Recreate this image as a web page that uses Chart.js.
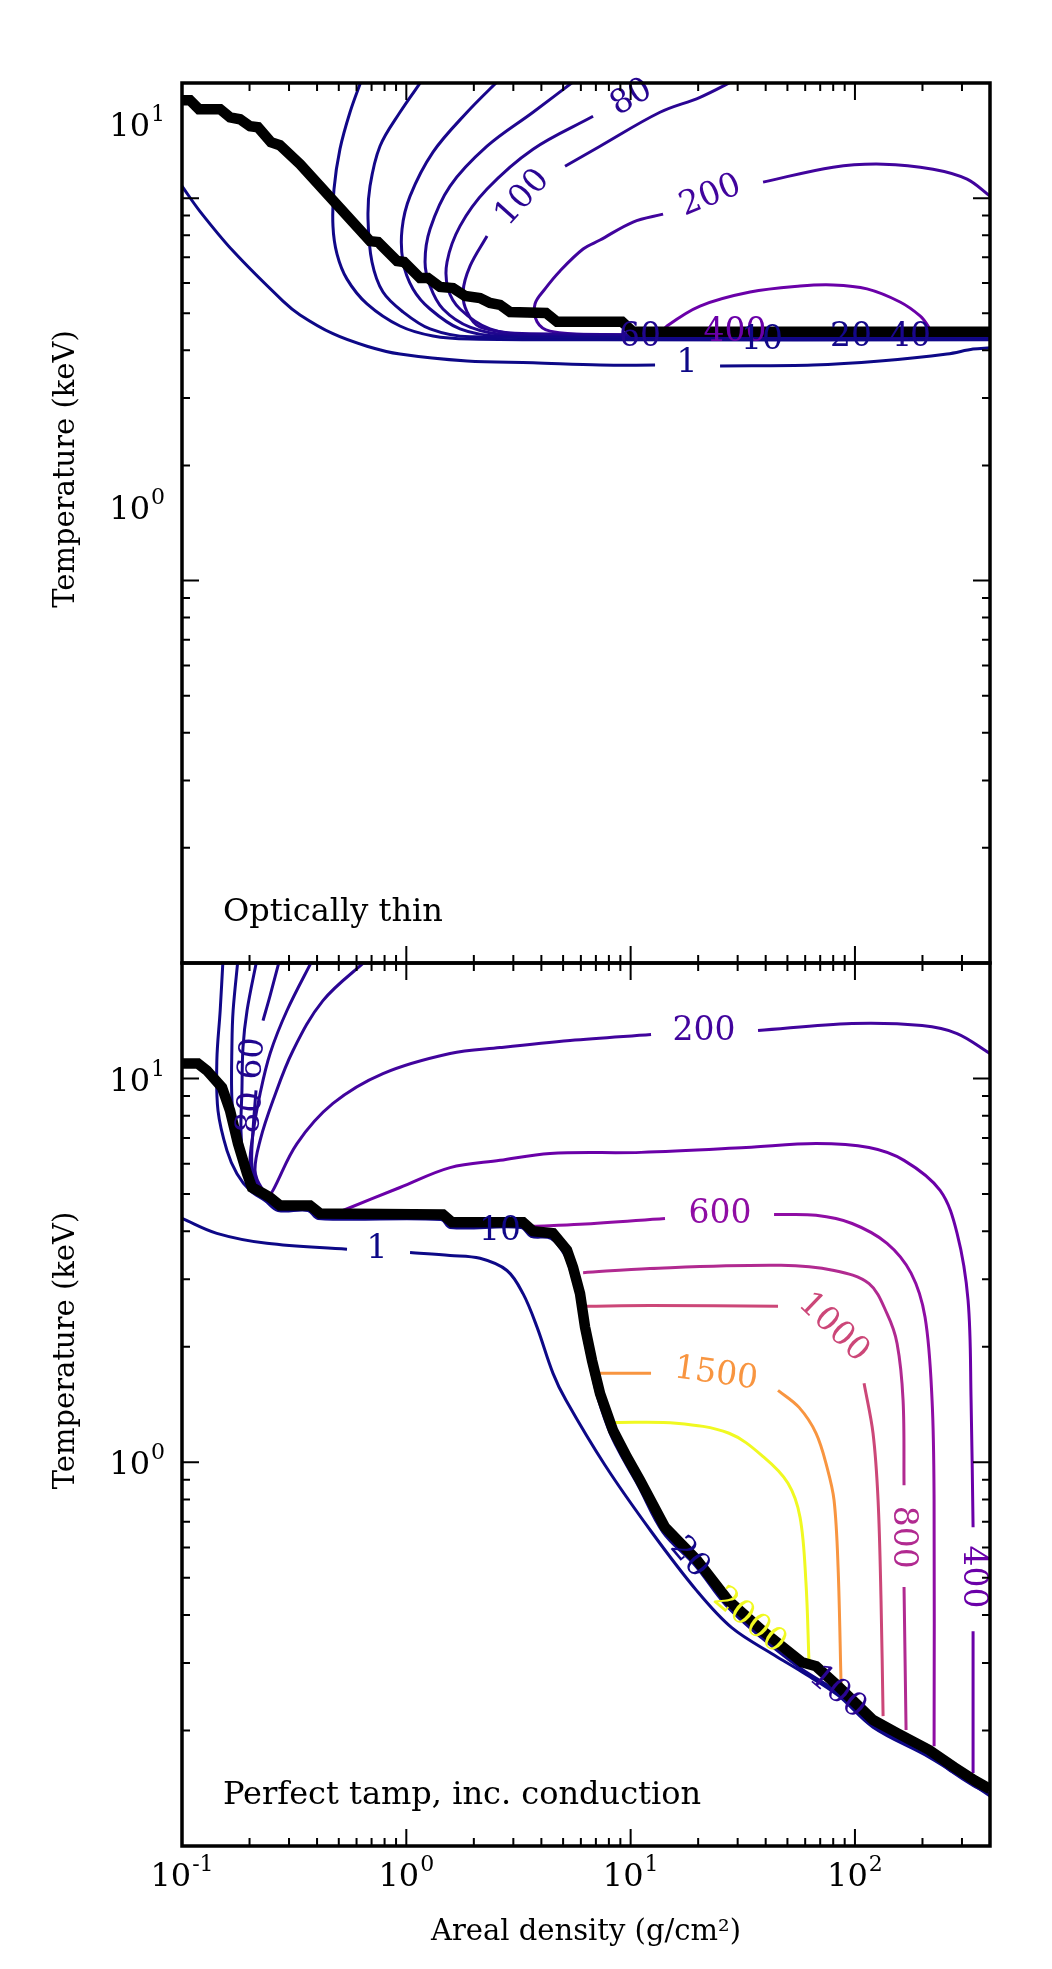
<!DOCTYPE html>
<html>
<head>
<meta charset="utf-8">
<title>Areal density vs temperature</title>
<script src="https://cdn.jsdelivr.net/npm/chart.js@4.4.1/dist/chart.umd.min.js"></script>
<style>
  body { margin: 0; background: #fff; }
  #wrap { position: relative; width: 1052px; height: 1969px; }
  #wrap canvas { position: absolute; left: 0; top: 0; }
</style>
</head>
<body>
<div id="wrap">
  <canvas id="thinChart" width="1052" height="1969"></canvas>
  <canvas id="tampChart" width="1052" height="1969"></canvas>
</div>
<script>
// Axes (log-log, shared x)
const xRange = [0.1, 400];
const yRange = [0.1, 20];
const xMajor = [0.1, 1, 10, 100];
const xExponents = ['-1', '0', '1', '2'];
const yMajor = [1, 10];
const yExponents = ['0', '1'];

// Contour levels and their plasma colours
const levels = [1, 10, 20, 40, 60, 80, 100, 200, 400, 600, 800, 1000, 1500, 2000];
const levelColours = ['#0d0887', '#100788', '#130789', '#19068c', '#20068f', '#260591', '#2a0593',
  '#41049d', '#6a00a8', '#8f0da4', '#b12a90', '#cc4778', '#f89540', '#f0f921'];

// ---- Top panel: optically thin ----  [areal density g/cm2, temperature keV]
const thinBoundary = [[0.1,18.03],[0.1086,18.03],[0.119,17.08],[0.148,17.08],[0.1637,16.27],[0.1814,16.08],
  [0.201,15.42],[0.2182,15.32],[0.2492,14.0],[0.273,13.75],[0.336,12.27],[0.689,7.72],[0.748,7.68],
  [0.909,6.85],[0.977,6.81],[1.151,6.18],[1.249,6.18],[1.414,5.86],[1.615,5.82],[1.827,5.55],[2.131,5.48],
  [2.361,5.32],[2.617,5.26],[2.9,5.04],[4.196,5.01],[4.697,4.75],[9.16,4.75],[10.25,4.47],[400,4.47]];
const thinC1 = [[0.1,10.75],[0.12,9.25],[0.169,7.27],[0.282,5.38],[0.336,4.95],[0.471,4.42],[0.668,4.1],
  [0.937,3.91],[1.865,3.75],[3.672,3.71],[7.305,3.66],[12.85,3.66],null,[25.04,3.64],[65.05,3.66],
  [129.4,3.75],[257.4,3.91],[336.2,4.03],[400,4.06]];
const thinC10 = [[0.634,20.5],[0.561,16.77],[0.506,13.43],[0.476,10.56],[0.471,8.45],[0.491,7.14],[0.544,6.14],
  [0.668,5.29],[0.937,4.63],[1.315,4.36],[1.923,4.28],[7.305,4.26],[400,4.26]];
const thinC20 = [[1.187,20.5],[0.937,16.77],[0.763,13.67],[0.689,10.75],[0.675,8.81],[0.703,6.81],[0.787,5.68],
  [0.967,5.04],[1.276,4.55],[1.923,4.34],[400,4.31]];
const thinC40 = [[2.617,20.5],[1.865,16.77],[1.315,13.19],[1.039,10.12],[0.957,8.3],[0.967,6.81],[1.071,5.79],
  [1.276,5.13],[1.735,4.55],[2.617,4.36],[400,4.34]];
const thinC60 = [[5.77,20.5],[3.672,16.77],[2.29,13.67],[1.567,10.75],[1.276,8.3],[1.212,6.81],[1.276,5.89],
  [1.457,5.13],[1.923,4.6],[2.9,4.39],[400,4.36]];
const thinC80 = [[6.8,16.37],[3.672,13.43],[2.29,10.56],[1.735,8.45],[1.519,6.81],[1.535,5.79],[1.735,5.13],
  [2.361,4.55],[3.561,4.39],[400,4.36]];
const thinC100 = [[29.82,20.5],[20.39,18.35],[13.52,16.77],[7.305,13.67],[5.1,12.12],null,[2.29,7.96],
  [1.923,6.64],[1.789,5.68],[1.865,5.04],[2.131,4.6],[3.561,4.42],[400,4.39]];
const thinC200 = [[400,10.12],[316.1,11.21],[222.9,11.9],[133.5,12.27],[79.9,12.05],[38.94,11.01],null,
  [13.95,9.08],[10.25,8.66],[7.305,7.77],[6.14,7.36],[4.845,6.45],[4.154,5.79],[3.748,5.29],[3.826,4.75],
  [4.373,4.49],[7.305,4.39],[400,4.36]];
const thinC400 = [[13.52,4.39],[14.53,4.63],[20.39,5.22],[34.07,5.68],[56.92,5.89],[79.9,5.93],[113.2,5.79],
  [158.9,5.35],[195.1,4.92],[211.8,4.63],[220.7,4.39]];
const thinLabels = [
  { text: '80', x: 10.04, y: 18.4, angle: -30, level: 80 },
  { text: '100', x: 3.28, y: 10.06, angle: -48, level: 100 },
  { text: '200', x: 22.6, y: 10.18, angle: -22, level: 200 },
  { text: '400', x: 29.22, y: 4.49, angle: 0, level: 400 },
  { text: '60', x: 11.01, y: 4.34, angle: 0, level: 60 },
  { text: '10', x: 38.54, y: 4.28, angle: 0, level: 10 },
  { text: '20', x: 96.07, y: 4.34, angle: 0, level: 20 },
  { text: '40', x: 176.1, y: 4.34, angle: 0, level: 40 },
  { text: '1', x: 17.85, y: 3.71, angle: 0, level: 1 }
];

// ---- Bottom panel: perfect tamp, inc. conduction ----
const tampBoundary = [[0.1,10.94],[0.1178,10.94],[0.1292,10.49],[0.1508,9.48],[0.1637,8.25],[0.1777,6.77],
  [0.195,5.65],[0.2051,5.2],[0.2297,5.02],[0.2467,4.9],[0.273,4.67],[0.372,4.67],[0.412,4.45],[1.457,4.42],
  [1.598,4.22],[3.314,4.22],[3.672,4.0],[4.508,3.95],[5.204,3.57],[5.536,3.22],[5.949,2.75],[6.262,2.25],
  [6.73,1.84],[7.305,1.51],[8.35,1.21],[9.64,1.03],[11.01,0.898],[14.23,0.677],[19.78,0.556],[27.19,0.437],
  [39.34,0.361],[58.1,0.301],[67.1,0.294],[84.1,0.261],[120.4,0.213],[154.1,0.197],[214,0.178],
  [276.6,0.1606],[343,0.148],[400,0.1407]];
const tampC1 = [[0.1,4.32],[0.143,3.95],[0.239,3.72],[0.544,3.59],null,[1.039,3.52],[1.567,3.46],[2.131,3.4],
  [2.81,3.16],[3.314,2.75],[3.826,2.25],[4.508,1.705],[5.152,1.45],[7.69,0.982],[12.33,0.661],[19.78,0.4615],
  [28.31,0.37],[43.59,0.3145],[58.1,0.284],[84.1,0.247],[120.4,0.204],[214,0.1705],[343,0.1433],[400,0.135]];
const tampC10 = [[0.1524,20.5],[0.148,15.04],[0.143,11.14],[0.1447,8.25],[0.1587,6.49],[0.1758,5.65],
  [0.201,5.11],[0.2344,4.81],[0.268,4.53],[0.3645,4.53],[0.404,4.32],[1.428,4.29],[1.567,4.09],[3.247,4.09],
  [3.597,3.88],[4.417,3.83],[5.1,3.46],[5.425,3.12],[5.83,2.67],[6.14,2.18],[6.593,1.789],[7.155,1.468],
  [8.176,1.176],[9.44,1.0],[10.79,0.871],[13.95,0.657],[19.37,0.539],[26.62,0.424],[38.54,0.348],
  [56.92,0.291],[82.35,0.253],[118.0,0.207],[150.9,0.191],[209.6,0.175],[271,0.156],[336.2,0.1438],
  [400,0.1366]];
const tampC20 = [[0.1777,20.5],[0.169,15.04],[0.167,12.33],[0.167,8.76],[0.1758,6.61],[0.195,5.43],
  [0.2274,4.96],[0.26,4.7]];
const tampC40 = [[0.216,20.5],[0.195,15.04],[0.187,12.04],[0.185,9.31],[0.1832,7.32],[0.189,6.01],
  [0.2073,5.27],[0.2417,4.87],[0.273,4.64]];
const tampC60 = [[0.273,20.5],[0.247,16.45],[0.2297,14.16],null,[0.2138,9.31],[0.2073,7.32],[0.2051,5.93],
  [0.2182,5.27],[0.2518,4.84],[0.279,4.61]];
const tampC80 = [[0.3837,20.5],[0.2938,15.04],[0.247,11.62],[0.223,9.14],[0.2073,7.19],[0.201,5.86],
  [0.2138,5.27],[0.247,4.87],[0.285,4.61]];
const tampC100 = [[0.675,20.5],[0.425,15.96],[0.3126,11.83],[0.2544,8.76],[0.223,6.9],[0.2116,5.76],
  [0.2274,5.17],[0.26,4.81],[0.2909,4.59]];
const tampC200 = [[0.2417,4.9],[0.2544,5.11],[0.3256,6.77],[0.471,8.61],[0.787,10.3],[1.567,11.62],
  [2.617,12.04],[5.37,12.56],[12.33,13.02],null,[36.98,13.34],[97.1,13.91],[199.2,13.74],[285.3,13.1],
  [400,11.62]];
const tampC400 = [[0.522,4.53],[0.937,5.2],[1.567,5.86],[2.617,6.12],[4.373,6.38],[11.13,6.42],[32.7,6.61],
  [67.1,6.77],[115.6,6.61],[165.5,6.12],[239.6,5.11],[285.3,3.95],[319.4,2.64],[329.4,1.45],[336.2,0.677],
  null,[336.2,0.363],[336.2,0.155]];
const tampC600 = [[3.672,4.12],[5.949,4.17],[14.23,4.32],null,[43.59,4.42],[67.1,4.4],[97.1,4.19],
  [139.0,3.72],[177.9,3.11],[205.3,2.39],[220.7,1.45],[225.3,0.796],[225.3,0.182]];
const tampC800 = [[6.14,3.12],[12.2,3.2],[46.83,3.26],[80.7,3.16],[115.6,2.92],[139.0,2.44],[154.1,2.04],
  [163.9,1.45],[165.5,0.871],null,[165.5,0.473],[169.0,0.2005]];
const tampC1000 = [[6.39,2.55],[12.2,2.56],[45.4,2.55],null,[109.8,1.606],[120.4,1.19],[126.8,0.796],
  [130.7,0.437],[133.5,0.218]];
const tampC1500 = [[7.155,1.705],[12.33,1.705],null,[45.4,1.54],[56.34,1.39],[67.1,1.19],[75.1,0.97],
  [80.7,0.796],[84.1,0.533],[86.7,0.266]];
const tampC2000 = [[8.35,1.27],[15.94,1.264],[27.47,1.19],[39.34,1.03],[50.3,0.882],[56.92,0.719],
  [60.5,0.484],[62.4,0.301]];
const tampLabels = [
  { text: '200', x: 21.25, y: 13.34, angle: 0, level: 200 },
  { text: '600', x: 25.04, y: 4.45, angle: 0, level: 600 },
  { text: '1000', x: 80.7, y: 2.25, angle: 44, level: 1000 },
  { text: '1500', x: 24.03, y: 1.705, angle: 8, level: 1500 },
  { text: '800', x: 165.5, y: 0.638, angle: 90, level: 800 },
  { text: '400', x: 339.6, y: 0.502, angle: 90, level: 400 },
  { text: '2000', x: 34.07, y: 0.388, angle: 40, level: 2000 },
  { text: '20', x: 18.4, y: 0.566, angle: 50, level: 20 },
  { text: '100', x: 84.1, y: 0.252, angle: 40, level: 100 },
  { text: '10', x: 2.617, y: 4.02, angle: 0, level: 10 },
  { text: '1', x: 0.74, y: 3.61, angle: 0, level: 1 },
  { text: '60', x: 0.2051, y: 11.27, angle: -85, level: 60 },
  { text: '80', x: 0.201, y: 8.15, angle: -85, level: 80 }
];

const serif = '"DejaVu Serif", "Liberation Serif", serif';
const colourOf = {};
levels.forEach((lv, i) => { colourOf[lv] = levelColours[i]; });

function contour(points, level) {
  return {
    data: points.map(p => (p ? { x: p[0], y: p[1] } : { x: null, y: null })),
    borderColor: colourOf[level],
    borderWidth: 3,
    tension: 0.35,
    pointRadius: 0,
    fill: false,
    clip: 0,
    order: 1
  };
}

function boundary(points) {
  return {
    data: points.map(p => ({ x: p[0], y: p[1] })),
    borderColor: '#000',
    borderWidth: 10.5,
    tension: 0,
    pointRadius: 0,
    fill: false,
    clip: 0,
    order: 0
  };
}

// log tick positions: 1..9 x 10^n inside the range
function logTicks(lo, hi) {
  const out = [];
  for (let d = Math.floor(Math.log10(lo) + 1e-9); Math.pow(10, d) <= hi * 1.0001; d++) {
    for (let m = 1; m <= 9; m++) {
      const v = m * Math.pow(10, d);
      if (v >= lo * 0.9999 && v <= hi * 1.0001) out.push({ v: v, major: m === 1 });
    }
  }
  return out;
}

function drawPower(ctx, exp, x, yMid, align) {
  ctx.font = '32px ' + serif;
  const wb = ctx.measureText('10').width;
  ctx.font = '22px ' + serif;
  const ws = ctx.measureText(exp).width;
  const left = align === 'right' ? x - wb - ws - 1 : x - (wb + ws + 1) / 2;
  ctx.textAlign = 'left';
  ctx.textBaseline = 'alphabetic';
  ctx.font = '32px ' + serif;
  ctx.fillText('10', left, yMid + 12);
  ctx.font = '22px ' + serif;
  ctx.fillText(exp, left + wb + 1, yMid - 3);
}

// frame, inward ticks, labels and titles
function decor(cfg) {
  return {
    id: 'decor',
    afterDatasetsDraw(chart) {
      const ctx = chart.ctx;
      const a = chart.chartArea;
      const xs = chart.scales.x, ys = chart.scales.y;
      ctx.save();

      // contour labels
      ctx.font = '33px ' + serif;
      ctx.textAlign = 'center';
      ctx.textBaseline = 'middle';
      cfg.labels.forEach(l => {
        ctx.save();
        ctx.translate(xs.getPixelForValue(l.x), ys.getPixelForValue(l.y));
        ctx.rotate(l.angle * Math.PI / 180);
        ctx.fillStyle = colourOf[l.level];
        ctx.fillText(l.text, 0, 1);
        ctx.restore();
      });

      // ticks
      ctx.strokeStyle = '#000';
      ctx.lineWidth = 2;
      ctx.beginPath();
      logTicks(xRange[0], xRange[1]).forEach(t => {
        const px = xs.getPixelForValue(t.v);
        const len = t.major ? 17 : 8;
        ctx.moveTo(px, a.bottom); ctx.lineTo(px, a.bottom - len);
        ctx.moveTo(px, a.top); ctx.lineTo(px, a.top + len);
      });
      logTicks(yRange[0], yRange[1]).forEach(t => {
        const py = ys.getPixelForValue(t.v);
        const len = t.major ? 17 : 8;
        ctx.moveTo(a.left, py); ctx.lineTo(a.left + len, py);
        ctx.moveTo(a.right, py); ctx.lineTo(a.right - len, py);
      });
      ctx.stroke();

      // frame
      ctx.lineWidth = 3.5;
      ctx.strokeRect(a.left, a.top, a.right - a.left, a.bottom - a.top);

      // tick labels
      ctx.fillStyle = '#000';
      yMajor.forEach((v, i) => {
        drawPower(ctx, yExponents[i], a.left - 17, ys.getPixelForValue(v) - cfg.yLabelShift, 'right');
      });
      if (cfg.xLabels) {
        xMajor.forEach((v, i) => {
          drawPower(ctx, xExponents[i], xs.getPixelForValue(v), a.bottom + 28, 'center');
        });
        ctx.font = '29px ' + serif;
        ctx.textAlign = 'center';
        ctx.textBaseline = 'alphabetic';
        ctx.fillText('Areal density (g/cm\u00b2)', (a.left + a.right) / 2, a.bottom + 94);
      }

      // y title
      ctx.save();
      ctx.translate(74, (a.top + a.bottom) / 2 - 54);
      ctx.rotate(-Math.PI / 2);
      ctx.font = '29px ' + serif;
      ctx.textAlign = 'center';
      ctx.textBaseline = 'alphabetic';
      ctx.fillText('Temperature (keV)', 0, 0);
      ctx.restore();

      // panel note
      ctx.font = '32px ' + serif;
      ctx.textAlign = 'left';
      ctx.textBaseline = 'alphabetic';
      ctx.fillText(cfg.note, a.left + 41, a.bottom - 42);
      ctx.restore();
    }
  };
}

function panelOptions(padTop, padBottom) {
  return {
    responsive: false,
    animation: false,
    devicePixelRatio: 1,
    events: [],
    layout: { padding: { left: 182, right: 62, top: padTop, bottom: padBottom } },
    plugins: { legend: { display: false }, tooltip: { enabled: false } },
    scales: {
      x: { type: 'logarithmic', min: xRange[0], max: xRange[1], bounds: 'data', display: false },
      y: { type: 'logarithmic', min: yRange[0], max: yRange[1], bounds: 'data', display: false }
    }
  };
}

new Chart(document.getElementById('thinChart'), {
  type: 'line',
  data: {
    datasets: [
      boundary(thinBoundary),
      contour(thinC1, 1), contour(thinC10, 10), contour(thinC20, 20), contour(thinC40, 40),
      contour(thinC60, 60), contour(thinC80, 80), contour(thinC100, 100), contour(thinC200, 200),
      contour(thinC400, 400)
    ]
  },
  options: panelOptions(83, 1006),
  plugins: [decor({ labels: thinLabels, yLabelShift: 74, xLabels: false, note: 'Optically thin' })]
});

new Chart(document.getElementById('tampChart'), {
  type: 'line',
  data: {
    datasets: [
      boundary(tampBoundary),
      contour(tampC2000, 2000), contour(tampC1500, 1500), contour(tampC1000, 1000), contour(tampC800, 800),
      contour(tampC600, 600), contour(tampC400, 400), contour(tampC200, 200), contour(tampC100, 100),
      contour(tampC80, 80), contour(tampC60, 60), contour(tampC40, 40), contour(tampC20, 20),
      contour(tampC10, 10), contour(tampC1, 1)
    ]
  },
  options: panelOptions(963, 123),
  plugins: [decor({ labels: tampLabels, yLabelShift: 0, xLabels: true, note: 'Perfect tamp, inc. conduction' })]
});
</script>
</body>
</html>
